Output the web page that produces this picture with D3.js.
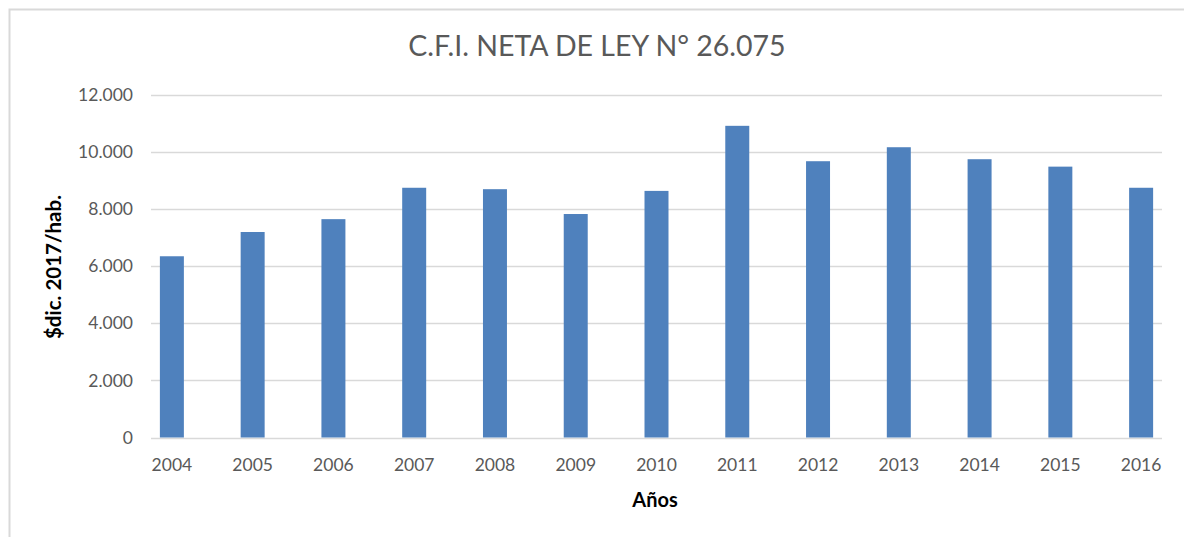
<!DOCTYPE html>
<html>
<head>
<meta charset="utf-8">
<script src="https://cdn.jsdelivr.net/npm/d3@7"></script>
<style>
  html, body { margin: 0; padding: 0; background: #fff; }
  svg { display: block; }
</style>
</head>
<body>
<svg id="chart" width="1184" height="537"></svg>
<script>
const categories = ["2004","2005","2006","2007","2008","2009","2010","2011","2012","2013","2014","2015","2016"];
const values = [6350, 7200, 7650, 8750, 8700, 7830, 8640, 10920, 9680, 10170, 9750, 9490, 8750];
const yTicks = [0, 2000, 4000, 6000, 8000, 10000, 12000];
const titleText = "C.F.I. NETA DE LEY N° 26.075";
const yTitle = "$dic. 2017/hab.";
const xTitle = "Años";

const svg = d3.select("#chart");
const font = "Lato, 'Open Sans', sans-serif";

// chart border
svg.append("path")
  .attr("d", "M9.5,537 L9.5,9.5 L1184,9.5")
  .attr("fill", "none")
  .attr("stroke", "#d9d9d9")
  .attr("stroke-width", 2);

const plot = { left: 151, right: 1162, top: 95, bottom: 437.5 };

const x = d3.scaleBand().domain(categories)
  .range([plot.left, plot.right])
  .paddingInner(0.703).paddingOuter(0.11);
const y = d3.scaleLinear().domain([0, 12000]).range([plot.bottom, plot.top]);

const fmt = v => d3.format(",")(v).replace(/,/g, ".");

// gridlines
svg.append("g").selectAll("line").data(yTicks).join("line")
  .attr("x1", plot.left).attr("x2", plot.right)
  .attr("y1", d => Math.round(y(d)) + 0.5).attr("y2", d => Math.round(y(d)) + 0.5)
  .attr("stroke", "#d9d9d9").attr("stroke-width", 1.3);

// y tick labels
const yAxis = d3.axisLeft(y).tickValues(yTicks).tickFormat(fmt).tickSize(0).tickPadding(0);
const gy = svg.append("g").attr("transform", `translate(133,0)`).call(yAxis);
gy.select(".domain").remove();
gy.selectAll("text").attr("font-family", font).attr("font-size", 17.5).attr("fill", "#595959");

// bars
svg.append("g").selectAll("rect").data(values).join("rect")
  .attr("x", (d, i) => x(categories[i]))
  .attr("width", x.bandwidth())
  .attr("y", d => y(d))
  .attr("height", d => y(0) - y(d))
  .attr("fill", "#4f81bd");

// x tick labels
const xAxis = d3.axisBottom(x).tickSize(0).tickPadding(0);
const gx = svg.append("g").attr("transform", `translate(0,${plot.bottom + 21})`).call(xAxis);
gx.select(".domain").remove();
gx.selectAll("text").attr("font-family", font).attr("font-size", 17.5).attr("fill", "#595959");

// title
svg.append("text").attr("x", 597).attr("y", 56).attr("text-anchor", "middle")
  .attr("font-family", font).attr("font-size", 28.5).attr("fill", "#595959")
  .text(titleText);

// axis titles
svg.append("text").attr("x", 655).attr("y", 507).attr("text-anchor", "middle")
  .attr("font-family", font).attr("font-size", 20).attr("font-weight", "bold").attr("fill", "#000")
  .text(xTitle);

svg.append("text").attr("transform", "translate(61,267) rotate(-90)").attr("text-anchor", "middle")
  .attr("font-family", font).attr("font-size", 20.5).attr("font-weight", "bold").attr("fill", "#000")
  .text(yTitle);
</script>
</body>
</html>
